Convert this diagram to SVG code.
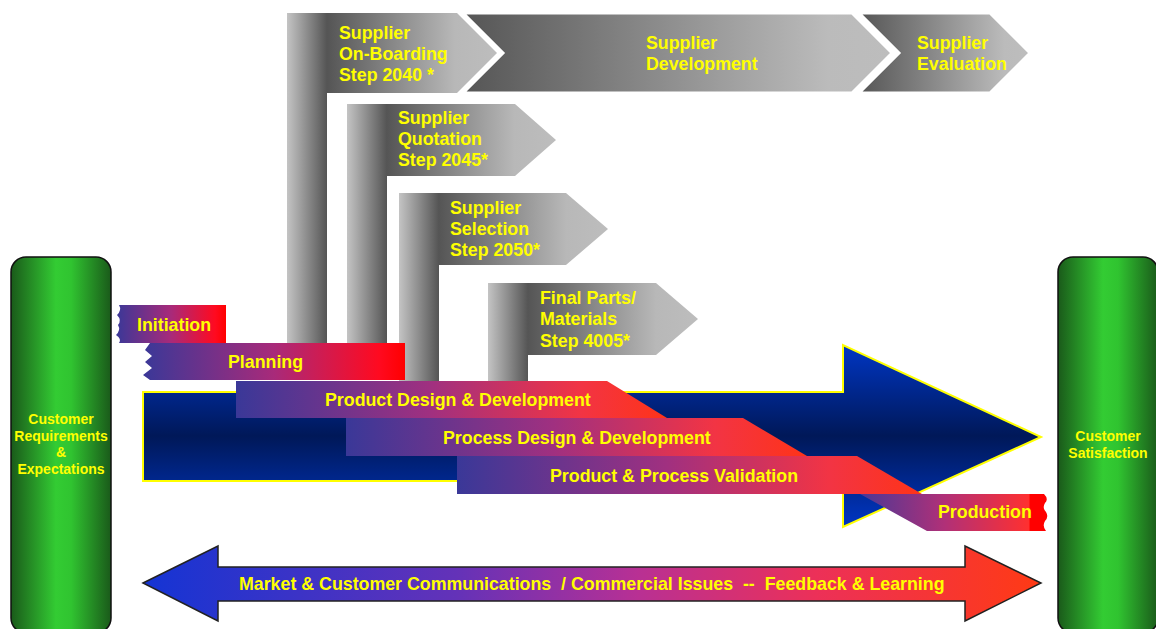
<svg xmlns="http://www.w3.org/2000/svg" width="1156" height="629" viewBox="0 0 1156 629">
<style>
.t{font-family:"Liberation Sans",Arial,sans-serif;font-weight:bold;fill:#ffff00;font-size:17.8px}
.s{font-family:"Liberation Sans",Arial,sans-serif;font-weight:bold;fill:#ffff00;font-size:14px;text-anchor:middle}
.chev{stroke:#ffffff;stroke-width:3;stroke-linejoin:miter}
</style>
<defs>
<linearGradient id="gOnb" gradientUnits="userSpaceOnUse" x1="287" y1="0" x2="497" y2="0">
<stop offset="0" stop-color="#c4c4c4"/><stop offset="0.19" stop-color="#555555"/><stop offset="0.8" stop-color="#b8b8b8"/><stop offset="1" stop-color="#bdbdbd"/>
</linearGradient>
<linearGradient id="gQuo" gradientUnits="userSpaceOnUse" x1="347" y1="0" x2="556" y2="0">
<stop offset="0" stop-color="#c4c4c4"/><stop offset="0.19" stop-color="#555555"/><stop offset="0.8" stop-color="#b8b8b8"/><stop offset="1" stop-color="#bdbdbd"/>
</linearGradient>
<linearGradient id="gSel" gradientUnits="userSpaceOnUse" x1="399" y1="0" x2="608" y2="0">
<stop offset="0" stop-color="#c4c4c4"/><stop offset="0.19" stop-color="#555555"/><stop offset="0.8" stop-color="#b8b8b8"/><stop offset="1" stop-color="#bdbdbd"/>
</linearGradient>
<linearGradient id="gFin" gradientUnits="userSpaceOnUse" x1="488" y1="0" x2="698" y2="0">
<stop offset="0" stop-color="#c4c4c4"/><stop offset="0.19" stop-color="#555555"/><stop offset="0.8" stop-color="#b8b8b8"/><stop offset="1" stop-color="#bdbdbd"/>
</linearGradient>
<linearGradient id="gDark" x1="0" y1="0" x2="1" y2="0">
<stop offset="0" stop-color="#555555"/><stop offset="0.85" stop-color="#bbbbbb"/><stop offset="1" stop-color="#bdbdbd"/>
</linearGradient>
<linearGradient id="gBlue" x1="0" y1="0" x2="0" y2="1">
<stop offset="0" stop-color="#0036c4"/><stop offset="0.5" stop-color="#001858"/><stop offset="1" stop-color="#0036c4"/>
</linearGradient>
<linearGradient id="gPhR" x1="0" y1="0" x2="1" y2="0">
<stop offset="0" stop-color="#3a3898"/><stop offset="0.5" stop-color="#a82a7a"/><stop offset="0.9" stop-color="#ff0a20"/><stop offset="1" stop-color="#ff0000"/>
</linearGradient>
<linearGradient id="gPh" x1="0" y1="0" x2="1" y2="0">
<stop offset="0" stop-color="#3a3898"/><stop offset="0.45" stop-color="#a03080"/><stop offset="0.8" stop-color="#f23444"/><stop offset="1" stop-color="#ff3318"/>
</linearGradient>
<linearGradient id="gProd" x1="0" y1="0" x2="1" y2="0">
<stop offset="0" stop-color="#4a3896"/><stop offset="0.45" stop-color="#b03078"/><stop offset="0.9" stop-color="#ff3030"/><stop offset="0.91" stop-color="#ff0000"/><stop offset="1" stop-color="#ff0000"/>
</linearGradient>
<linearGradient id="gBot" x1="0" y1="0" x2="1" y2="0">
<stop offset="0" stop-color="#1434d4"/><stop offset="0.35" stop-color="#6432b8"/><stop offset="0.55" stop-color="#b83094"/><stop offset="0.75" stop-color="#ec3058"/><stop offset="1" stop-color="#ff3a14"/>
</linearGradient>
<linearGradient id="gGreen" x1="0" y1="0" x2="1" y2="0">
<stop offset="0" stop-color="#1a5a1a"/><stop offset="0.45" stop-color="#33cc33"/><stop offset="0.6" stop-color="#30c430"/><stop offset="1" stop-color="#1a5a1a"/>
</linearGradient>
</defs>

<g id="supplier-onboarding">
<path d="M287,13 H457 L497,53 L457,93 H327 V350 H287 Z" fill="url(#gOnb)"/>
<text class="t" x="339" y="39">Supplier</text>
<text class="t" x="339" y="60">On-Boarding</text>
<text class="t" x="339" y="81">Step 2040 *</text>
</g>
<g id="supplier-development">
<path class="chev" d="M463,13 H852 L892,53 L852,93 H463 L503,53 Z" fill="url(#gDark)"/>
<text class="t" x="646" y="49">Supplier</text>
<text class="t" x="646" y="70">Development</text>
</g>
<g id="supplier-evaluation">
<path class="chev" d="M859,13 H990 L1030,53 L990,93 H859 L899,53 Z" fill="url(#gDark)"/>
<text class="t" x="917" y="49">Supplier</text>
<text class="t" x="917" y="70">Evaluation</text>
</g>
<g id="supplier-quotation">
<path d="M347,104 H515 L556,140 L515,176 H387 V350 H347 Z" fill="url(#gQuo)"/>
<text class="t" x="398" y="124">Supplier</text>
<text class="t" x="398" y="145">Quotation</text>
<text class="t" x="398" y="166">Step 2045*</text>
</g>
<g id="supplier-selection">
<path d="M399,193 H566 L608,229 L566,265 H439 V386 H399 Z" fill="url(#gSel)"/>
<text class="t" x="450" y="214">Supplier</text>
<text class="t" x="450" y="235">Selection</text>
<text class="t" x="450" y="256">Step 2050*</text>
</g>
<g id="final-parts">
<path d="M488,283 H656 L698,319 L656,355 H528 V386 H488 Z" fill="url(#gFin)"/>
<text class="t" x="540" y="304">Final Parts/</text>
<text class="t" x="540" y="325">Materials</text>
<text class="t" x="540" y="347">Step 4005*</text>
</g>

<g id="main-arrow">
<path d="M143,392 H843 V345 L1041,437 L843,527 V481 H143 Z" fill="url(#gBlue)" stroke="#ffff00" stroke-width="2"/>
</g>

<g id="initiation">
<path d="M119,305 H226 V343 H119 Q122,339 116,335 Q121,330 118,325 Q122,320 117,315 Q122,310 119,305 Z" fill="url(#gPhR)"/>
<text class="t" x="137" y="331">Initiation</text>
</g>
<g id="planning">
<path d="M150,343 H405 V380 H150 L143,375 L152,368 L145,362 L152,356 L145,350 Z" fill="url(#gPhR)"/>
<text class="t" x="228" y="368">Planning</text>
</g>
<g id="product-design">
<path d="M236,381 H607 L667,418 H236 Z" fill="url(#gPh)"/>
<text class="t" x="325" y="406">Product Design &amp; Development</text>
</g>
<g id="process-design">
<path d="M346,418 H743 L807,456 H346 Z" fill="url(#gPh)"/>
<text class="t" x="443" y="444">Process Design &amp; Development</text>
</g>
<g id="validation">
<path d="M457,456 H857 L922,494 H457 Z" fill="url(#gPh)"/>
<text class="t" x="550" y="482">Product &amp; Process Validation</text>
</g>
<g id="production">
<path d="M860,494 H1044 Q1049,499 1045,503 Q1042,508 1046,512 Q1049,517 1045,521 Q1042,526 1046,531 H927 Z" fill="url(#gProd)"/>
<text class="t" x="938" y="518">Production</text>
</g>

<g id="feedback-arrow">
<path d="M143,583 L218,546 V567 H965 V546 L1041,583 L965,621 V601 H218 V621 Z" fill="url(#gBot)" stroke="#222222" stroke-width="1.5" stroke-linejoin="miter"/>
<text class="t" x="239" y="590" xml:space="preserve">Market &amp; Customer Communications  / Commercial Issues  --  Feedback &amp; Learning</text>
</g>

<g id="customer-requirements">
<rect x="11" y="257" width="100" height="376" rx="15" ry="15" fill="url(#gGreen)" stroke="#111111" stroke-width="1.5"/>
<text class="s" x="61" y="424">Customer</text>
<text class="s" x="61" y="441">Requirements</text>
<text class="s" x="61" y="457">&amp;</text>
<text class="s" x="61" y="474">Expectations</text>
</g>
<g id="customer-satisfaction">
<rect x="1058" y="257" width="100" height="376" rx="15" ry="15" fill="url(#gGreen)" stroke="#111111" stroke-width="1.5"/>
<text class="s" x="1108" y="441">Customer</text>
<text class="s" x="1108" y="458">Satisfaction</text>
</g>
<g id="connectors"></g>
</svg>
